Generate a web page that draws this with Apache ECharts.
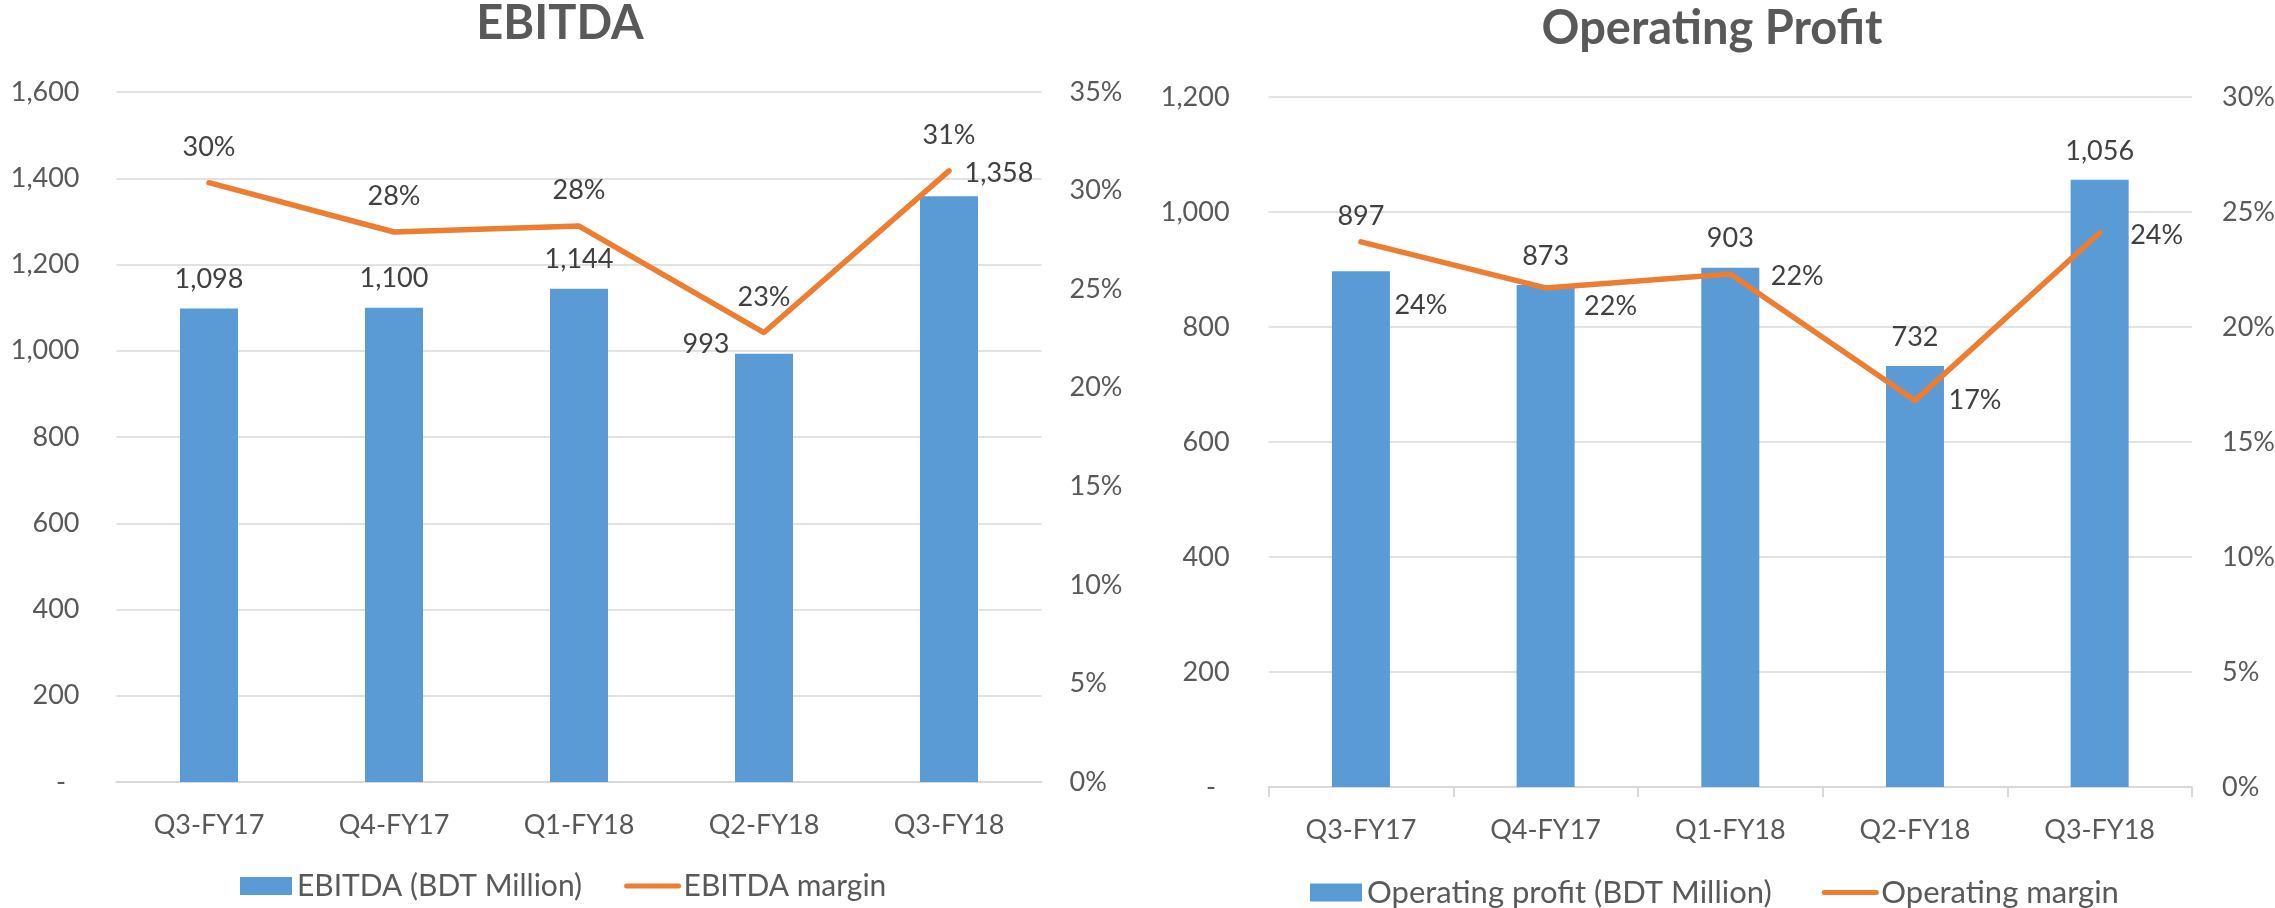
<!DOCTYPE html>
<html><head><meta charset="utf-8">
<script src="https://cdn.jsdelivr.net/npm/echarts@6/dist/echarts.min.js"></script>
<style>html,body{margin:0;padding:0;background:#fff}#c{width:2275px;height:908px}</style>
</head><body><div id="c"></div>
<script>
// ---- data ----
const categories = ['Q3-FY17', 'Q4-FY17', 'Q1-FY18', 'Q2-FY18', 'Q3-FY18'];
const ebitda = [1098, 1100, 1144, 993, 1358];            // BDT Million
const ebitdaMargin = [30.4, 27.9, 28.2, 22.8, 31.0];     // %
const opProfit = [897, 873, 903, 732, 1056];             // BDT Million
const opMargin = [23.7, 21.7, 22.3, 16.8, 24.1];         // %
const ebitdaAxis = {min: 0, max: 1600, interval: 200};
const ebitdaPctAxis = {min: 0, max: 35, interval: 5};
const opAxis = {min: 0, max: 1200, interval: 200};
const opPctAxis = {min: 0, max: 30, interval: 5};

// ---- label nudges (style only) ----
const ebitdaBarNudge = {3: [-58, 20], 4: [50, 6]};
const opBarNudge = {0: [0, -26]};
const opLineNudge = {0: [0, 63], 1: [5, 18], 2: [7, 2], 4: [-3, 3]};

const FONT = 'Lato';
const BLUE = '#5B9BD5', ORANGE = '#ED7D31';
const fmtNum = v => v === 0 ? '-\u2002' : v.toLocaleString('en-US');
const fmtPct = v => Math.round(v) + '%';

function withNudge(arr, nudge) {
  return arr.map((v, i) => nudge[i] ? {value: v, label: {offset: nudge[i]}} : v);
}
const labelBase = {show: true, color: '#404040', fontFamily: FONT, fontSize: 27, lineHeight: 28};
const axisLabelBase = {color: '#595959', fontFamily: FONT, fontSize: 27};

function catAxis(gridIndex, ticks) {
  return {
    type: 'category', gridIndex, data: categories, boundaryGap: true,
    axisLine: {show: true, lineStyle: {color: '#d9d9d9', width: 2}},
    axisTick: {show: ticks, length: 10, lineStyle: {color: '#d9d9d9', width: 2}},
    axisLabel: Object.assign({margin: 30}, axisLabelBase),
    splitLine: {show: false}
  };
}
function valAxis(gridIndex, rng, fmt, margin, split, pos) {
  return Object.assign({
    type: 'value', gridIndex, position: pos,
    axisLine: {show: false}, axisTick: {show: false},
    axisLabel: Object.assign({margin, formatter: fmt}, axisLabelBase),
    splitLine: {show: split, lineStyle: {color: '#d9d9d9', width: 1.5}}
  }, rng);
}
const titleStyle = {fontFamily: FONT, fontSize: 47, fontWeight: 'bold', color: '#595959'};

const chart = echarts.init(document.getElementById('c'), null, {renderer: 'canvas'});
chart.setOption({
  animation: false,
  backgroundColor: '#ffffff',
  title: [
    {text: 'EBITDA', left: 560, top: 0, textAlign: 'center', padding: 0, textStyle: titleStyle},
    {text: 'Operating Profit', left: 1712, top: 5, textAlign: 'center', padding: 0, textStyle: titleStyle}
  ],
  legend: [
    {left: 240, top: 871, padding: 0, itemWidth: 52, itemHeight: 18, itemGap: 42,
     textStyle: {color: '#595959', fontFamily: FONT, fontSize: 30},
     data: [{name: 'EBITDA (BDT Million)', icon: 'rect'},
            {name: 'EBITDA margin', itemStyle: {opacity: 0}, lineStyle: {width: 5}}]},
    {left: 1310, top: 877, padding: 0, itemWidth: 52, itemHeight: 18, itemGap: 50,
     textStyle: {color: '#595959', fontFamily: FONT, fontSize: 31},
     data: [{name: 'Operating profit (BDT Million)', icon: 'rect'},
            {name: 'Operating margin', itemStyle: {opacity: 0}, lineStyle: {width: 5}}]}
  ],
  grid: [
    {left: 116.5, right: 1233.5, top: 92, bottom: 126, outerBoundsMode: 'none', containLabel: false},
    {left: 1268.6, right: 83, top: 97, bottom: 121, outerBoundsMode: 'none', containLabel: false}
  ],
  xAxis: [catAxis(0, false), catAxis(1, true)],
  yAxis: [
    valAxis(0, ebitdaAxis, fmtNum, 37, true, 'left'),
    valAxis(0, ebitdaPctAxis, v => v + '%', 28, false, 'right'),
    valAxis(1, opAxis, fmtNum, 39, true, 'left'),
    valAxis(1, opPctAxis, v => v + '%', 30, false, 'right')
  ],
  series: [
    {name: 'EBITDA (BDT Million)', type: 'bar', xAxisIndex: 0, yAxisIndex: 0, barWidth: 58,
     itemStyle: {color: BLUE}, data: withNudge(ebitda, ebitdaBarNudge),
     label: Object.assign({position: 'top', distance: 15, formatter: p => fmtNum(p.value)}, labelBase)},
    {name: 'EBITDA margin', type: 'line', xAxisIndex: 0, yAxisIndex: 1, data: ebitdaMargin,
     symbol: 'circle', symbolSize: 1, showSymbol: true,
     itemStyle: {color: ORANGE}, lineStyle: {color: ORANGE, width: 5.5, cap: 'round', join: 'round'},
     label: Object.assign({position: 'top', distance: 21, formatter: p => fmtPct(p.value)}, labelBase)},
    {name: 'Operating profit (BDT Million)', type: 'bar', xAxisIndex: 1, yAxisIndex: 2, barWidth: 58,
     itemStyle: {color: BLUE}, data: withNudge(opProfit, opBarNudge),
     label: Object.assign({position: 'top', distance: 15, formatter: p => fmtNum(p.value)}, labelBase)},
    {name: 'Operating margin', type: 'line', xAxisIndex: 1, yAxisIndex: 3, data: withNudge(opMargin, opLineNudge),
     symbol: 'circle', symbolSize: 1, showSymbol: true,
     itemStyle: {color: ORANGE}, lineStyle: {color: ORANGE, width: 5.5, cap: 'round', join: 'round'},
     label: Object.assign({position: 'right', distance: 33, formatter: p => fmtPct(p.value)}, labelBase)}
  ]
});
</script>
</body></html>
